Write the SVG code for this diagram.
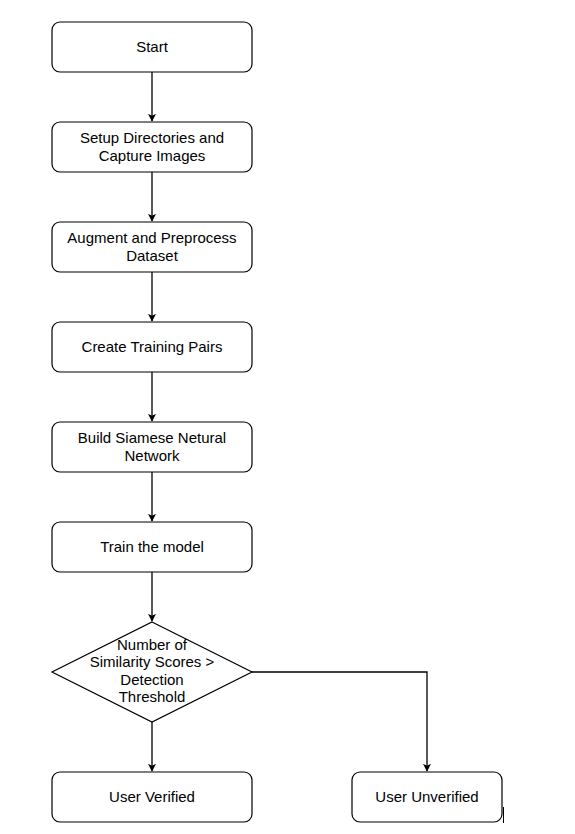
<svg xmlns="http://www.w3.org/2000/svg" width="575" height="834" viewBox="0 0 575 834">
<style>
.box{fill:#fff;stroke:#000;stroke-width:1.2}
.t{font-family:"Liberation Sans",Arial,sans-serif;font-size:15px;fill:#000;text-anchor:middle}
.c{fill:none;stroke:#000;stroke-width:1.3}
</style>
<defs>
<marker id="arr" viewBox="0 0 10 10" refX="9" refY="5" markerWidth="8" markerHeight="8" markerUnits="userSpaceOnUse" orient="auto">
<path d="M0,0 L10,5 L0,10 L2.5,5 Z" fill="#000"/>
</marker>
</defs>
<rect width="575" height="834" fill="#fff"/>
<g id="connectors">
<path class="c" d="M152,72 V121" marker-end="url(#arr)"/>
<path class="c" d="M152,172 V221" marker-end="url(#arr)"/>
<path class="c" d="M152,272 V321" marker-end="url(#arr)"/>
<path class="c" d="M152,372 V421" marker-end="url(#arr)"/>
<path class="c" d="M152,472 V521" marker-end="url(#arr)"/>
<path class="c" d="M152,572 V621" marker-end="url(#arr)"/>
<path class="c" d="M152,722 V771" marker-end="url(#arr)"/>
<path class="c" d="M252,672 H427 V771" marker-end="url(#arr)"/>
</g>
<g id="start">
<rect class="box" x="52" y="22" width="200" height="50" rx="8"/>
<text class="t" x="152" y="52">Start</text>
</g>
<g id="setup">
<rect class="box" x="52" y="122" width="200" height="50" rx="8"/>
<text class="t" x="152" y="143">Setup Directories and</text>
<text class="t" x="152" y="161">Capture Images</text>
</g>
<g id="augment">
<rect class="box" x="52" y="222" width="200" height="50" rx="8"/>
<text class="t" x="152" y="243">Augment and Preprocess</text>
<text class="t" x="152" y="261">Dataset</text>
</g>
<g id="pairs">
<rect class="box" x="52" y="322" width="200" height="50" rx="8"/>
<text class="t" x="152" y="352">Create Training Pairs</text>
</g>
<g id="build">
<rect class="box" x="52" y="422" width="200" height="50" rx="8"/>
<text class="t" x="152" y="443">Build Siamese Netural</text>
<text class="t" x="152" y="461">Network</text>
</g>
<g id="train">
<rect class="box" x="52" y="522" width="200" height="50" rx="8"/>
<text class="t" x="152" y="552">Train the model</text>
</g>
<g id="decision">
<polygon class="box" points="152,622 252,672 152,722 52,672"/>
<text class="t" x="152" y="650">Number of</text>
<text class="t" x="152" y="667">Similarity Scores &gt;</text>
<text class="t" x="152" y="685">Detection</text>
<text class="t" x="152" y="702">Threshold</text>
</g>
<g id="verified">
<rect class="box" x="52" y="772" width="200" height="50" rx="8"/>
<text class="t" x="152" y="802">User Verified</text>
</g>
<g id="unverified">
<rect class="box" x="352" y="772" width="150" height="50" rx="8"/>
<text class="t" x="427" y="802">User Unverified</text>
</g>
<line x1="503.5" y1="807" x2="503.5" y2="823" stroke="#000" stroke-width="1"/>
</svg>
